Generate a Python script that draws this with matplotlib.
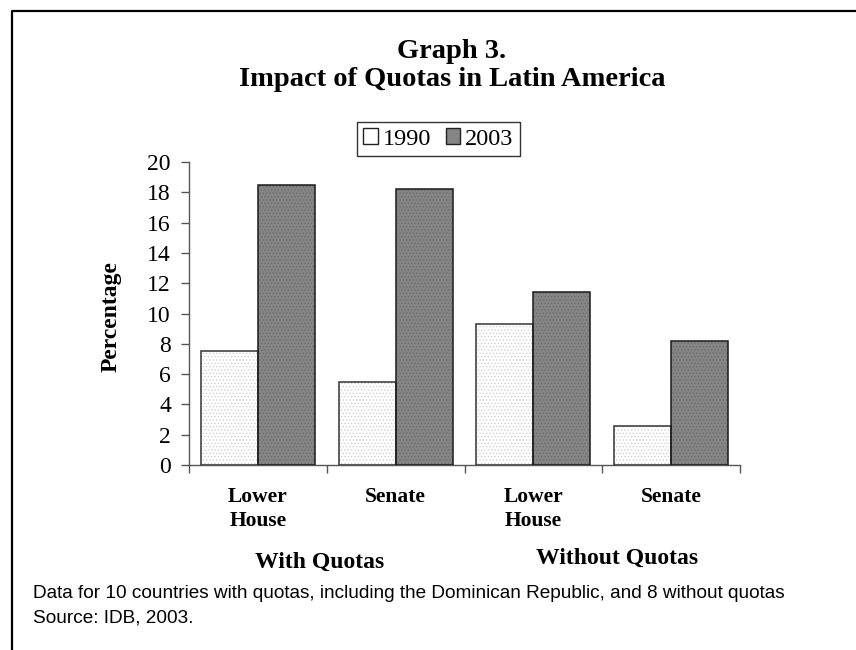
import numpy as np
import matplotlib
matplotlib.use('Agg')
import matplotlib.pyplot as plt
import matplotlib.transforms as mtransforms
from matplotlib.patches import Patch
from matplotlib.lines import Line2D

# data
categories = ['Lower\nHouse', 'Senate', 'Lower\nHouse', 'Senate']
groups = ['With Quotas', 'Without Quotas']
series = ['1990', '2003']
vals_1990 = [7.5, 5.5, 9.3, 2.6]
vals_2003 = [18.5, 18.2, 11.4, 8.2]
yticks = list(range(0, 21, 2))

serif = ['Liberation Serif', 'DejaVu Serif']
sans = ['Liberation Sans', 'DejaVu Sans']

W, H = 856, 650
fig = plt.figure(figsize=(W / 100, H / 100), dpi=100)
fig.patch.set_facecolor('white')

def fx(px):
    return px / W

def fy(py):
    return 1 - py / H

ax = fig.add_axes([fx(189), fy(465), fx(740) - fx(189), fy(162) - fy(465)])

x = np.arange(len(categories)) + 0.5
bw = 57 / 138.0

# fill layer with fine dot texture, then outline on top
plt.rcParams['hatch.linewidth'] = 0.6
ax.bar(x - bw / 2, vals_1990, bw, color='white', edgecolor='#d0d0d0', hatch='.....', linewidth=0, zorder=2)
ax.bar(x + bw / 2, vals_2003, bw, color='#858585', edgecolor='#6e6e6e', hatch='.....', linewidth=0, zorder=2)
ax.bar(x - bw / 2, vals_1990, bw, fill=False, edgecolor='#333333', linewidth=1.1, zorder=3)
ax.bar(x + bw / 2, vals_2003, bw, fill=False, edgecolor='#1a1a1a', linewidth=1.1, zorder=3)

ax.set_xlim(0, len(categories))
ax.set_ylim(0, 20)
ax.set_yticks(yticks)
ax.set_yticklabels([str(t) for t in yticks], family=serif, fontsize=17)
ax.set_xticks(np.arange(len(categories) + 1))
ax.set_xticklabels([])
ax.tick_params(axis='y', direction='out', length=6, width=1, color='#555555', pad=7)
ax.tick_params(axis='x', direction='out', length=6, width=1, color='#555555')

for s in ['top', 'right']:
    ax.spines[s].set_visible(False)
for s in ['left', 'bottom']:
    ax.spines[s].set_color('#555555')
    ax.spines[s].set_linewidth(1)

# category labels
trans = mtransforms.blended_transform_factory(ax.transData, fig.transFigure)
for xi, lab in zip(x, categories):
    ax.text(xi, fy(487), lab, transform=trans, ha='center', va='top', family=serif,
            fontweight='bold', fontsize=15.5, linespacing=1.25)

# group labels
fig.text(fx(320), fy(562), groups[0], ha='center', va='center', family=serif,
         fontweight='bold', fontsize=17)
fig.text(fx(617), fy(558), groups[1], ha='center', va='center', family=serif,
         fontweight='bold', fontsize=17)

ax.set_ylabel('Percentage', family=serif, fontweight='bold', fontsize=17)
ax.yaxis.set_label_coords(fx(122), fy(317), transform=fig.transFigure)

# title
fig.text(fx(452), fy(51), 'Graph 3.', ha='center', va='center', family=serif,
         fontweight='bold', fontsize=20.5)
fig.text(fx(452), fy(79), 'Impact of Quotas in Latin America', ha='center', va='center',
         family=serif, fontweight='bold', fontsize=20.5)

# legend
handles = [Patch(facecolor='white', edgecolor='#222222', linewidth=1),
           Patch(facecolor='#858585', edgecolor='#222222', linewidth=1)]
leg = fig.legend(handles, series, loc='center', bbox_to_anchor=(fx(438.5), fy(139)),
                 ncol=2, frameon=True, fancybox=False, edgecolor='black',
                 prop={'family': serif, 'size': 17.5}, handlelength=0.6, handleheight=0.6,
                 handletextpad=0.2, columnspacing=0.6, borderpad=0.25, borderaxespad=0)
leg.get_frame().set_linewidth(1)

# footnote
fig.text(fx(33), fy(594), 'Data for 10 countries with quotas, including the Dominican Republic, and 8 without quotas',
         ha='left', va='center', family=sans, fontsize=13.7)
fig.text(fx(33), fy(618), 'Source: IDB, 2003.', ha='left', va='center', family=sans, fontsize=13.7)

# outer frame (top and left edges visible)
fig.add_artist(Line2D([fx(12), fx(12), 1.0], [0.0, fy(11), fy(11)],
                      transform=fig.transFigure, color='black', linewidth=1.6))

fig.savefig('out.png', dpi=100)
